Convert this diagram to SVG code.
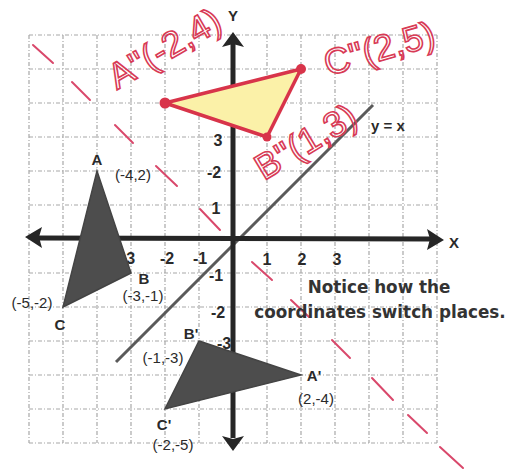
<svg xmlns="http://www.w3.org/2000/svg" width="508" height="470" viewBox="0 0 508 470">
<defs>
<style>
.grid line{stroke:#a8a8a8;stroke-width:1.2;stroke-dasharray:4 2 1 2}
.tick{font-family:"Liberation Sans",Arial,sans-serif;font-weight:bold;font-size:16px;fill:#2a2a2a;text-anchor:middle}
.lbl{font-family:"Liberation Sans",Arial,sans-serif;font-weight:bold;font-size:15px;fill:#2a2a2a;text-anchor:middle}
.crd{font-family:"Liberation Sans",Arial,sans-serif;font-size:15px;fill:#2a2a2a;text-anchor:middle}
.tri{fill:#4d4d4d;stroke:#444;stroke-width:1.5}
.axis{stroke:#262626;stroke-width:5;fill:none}
.head{fill:#262626}
.slash{stroke:#d9486b;stroke-width:2;stroke-linecap:round}
.hand{font-family:"Liberation Sans",Arial,sans-serif;font-size:36px;fill:none;stroke:#d83a55;stroke-width:1.6}
.note{font-family:"DejaVu Sans",Verdana,sans-serif;font-weight:bold;font-size:16.8px;fill:#333;text-anchor:middle}
</style>
</defs>
<rect width="508" height="470" fill="#ffffff"/>
<g id="grid" class="grid">
<line x1="29" y1="35" x2="29" y2="443"/><line x1="63" y1="35" x2="63" y2="443"/><line x1="97" y1="35" x2="97" y2="443"/><line x1="131" y1="35" x2="131" y2="443"/><line x1="165" y1="35" x2="165" y2="443"/><line x1="199" y1="35" x2="199" y2="443"/><line x1="267" y1="35" x2="267" y2="443"/><line x1="301" y1="35" x2="301" y2="443"/><line x1="335" y1="35" x2="335" y2="443"/><line x1="369" y1="35" x2="369" y2="443"/><line x1="403" y1="35" x2="403" y2="443"/><line x1="437" y1="35" x2="437" y2="443"/>
<line x1="29" y1="35" x2="437" y2="35"/><line x1="29" y1="69" x2="437" y2="69"/><line x1="29" y1="103" x2="437" y2="103"/><line x1="29" y1="137" x2="437" y2="137"/><line x1="29" y1="171" x2="437" y2="171"/><line x1="29" y1="205" x2="437" y2="205"/><line x1="29" y1="273" x2="437" y2="273"/><line x1="29" y1="307" x2="437" y2="307"/><line x1="29" y1="341" x2="437" y2="341"/><line x1="29" y1="375" x2="437" y2="375"/><line x1="29" y1="409" x2="437" y2="409"/><line x1="29" y1="443" x2="437" y2="443"/>
</g>
<g id="ticks">
<text class="tick" x="218" y="146">3</text>
<text class="tick" x="214" y="178">-2</text>
<text class="tick" x="216" y="214">1</text>
<text class="tick" x="216" y="281">-1</text>
<text class="tick" x="218" y="318">-2</text>
<text class="tick" x="224" y="349">-3</text>
<text class="tick" x="128" y="264">-3</text>
<text class="tick" x="167" y="264">-2</text>
<text class="tick" x="200" y="264">-1</text>
<text class="tick" x="267" y="265">1</text>
<text class="tick" x="302" y="265">2</text>
<text class="tick" x="337" y="265">3</text>
</g>
<g id="connectors">
<line id="line-yx" x1="116" y1="362" x2="373" y2="105" stroke="#5a5a5a" stroke-width="3"/>
<line class="axis" x1="38" y1="238" x2="432" y2="239"/>
<polygon class="head" points="25,237 42,227 39,237 42,248"/>
<polygon class="head" points="444,240 427,229 430,239 427,250"/>
<line class="axis" x1="233" y1="44" x2="233" y2="438"/>
<polygon class="head" points="233,32 222,47 233,44 244,47"/>
<polygon class="head" points="233,451 222,436 233,439 244,436"/>
</g>
<g id="slashes">
<line class="slash" x1="33" y1="45" x2="53" y2="63"/>
<line class="slash" x1="72" y1="82" x2="90" y2="100"/>
<line class="slash" x1="115" y1="125" x2="133" y2="143"/>
<line class="slash" x1="156" y1="166" x2="177" y2="186"/>
<line class="slash" x1="200" y1="209" x2="220" y2="230"/>
<line class="slash" x1="252" y1="262" x2="272" y2="280"/>
<line class="slash" x1="291" y1="300" x2="309" y2="317"/>
<line class="slash" x1="332" y1="340" x2="350" y2="358"/>
<line class="slash" x1="372" y1="378" x2="393" y2="400"/>
<line class="slash" x1="408" y1="415" x2="427" y2="433"/>
<line class="slash" x1="440" y1="447" x2="463" y2="468"/>
</g>
<g id="tri-ABC">
<polygon class="tri" points="97,171 131,273 63,307"/>
<text class="lbl" x="97" y="165">A</text>
<text class="crd" x="133" y="180">(-4,2)</text>
<text class="lbl" x="144" y="284">B</text>
<text class="crd" x="143" y="301">(-3,-1)</text>
<text class="crd" x="32" y="308">(-5,-2)</text>
<text class="lbl" x="60" y="330">C</text>
</g>
<g id="tri-ABC-prime">
<polygon class="tri" points="301,375 199,341 165,409"/>
<text class="lbl" x="191" y="339">B'</text>
<text class="crd" x="163" y="363">(-1,-3)</text>
<text class="lbl" x="314" y="381">A'</text>
<text class="crd" x="316" y="404">(2,-4)</text>
<text class="lbl" x="164" y="430">C'</text>
<text class="crd" x="173" y="450">(-2,-5)</text>
</g>
<g id="tri-ABC-double">
<polygon points="165,103 301,69 267,137" fill="#fbf1a8" stroke="#d8344a" stroke-width="3.5" stroke-linejoin="round"/>
<circle cx="165" cy="103" r="5.5" fill="#d8344a"/>
<circle cx="301" cy="69" r="5" fill="#d8344a"/>
<circle cx="267" cy="137" r="4.5" fill="#d8344a"/>
<text class="hand" font-size="30" transform="translate(117 90) rotate(-30)">A''(-2,4)</text>
<text class="hand" transform="translate(328 76) rotate(-16)">C''(2,5)</text>
<text class="hand" transform="translate(264 181) rotate(-31)">B''(1,3)</text>
</g>
<g id="axis-labels">
<text class="lbl" x="454" y="248" font-size="18">X</text>
<text class="lbl" x="233" y="21" font-size="16">Y</text>
<text class="lbl" x="388" y="131" font-size="14">y = x</text>
</g>
<g id="note">
<text class="note" x="379" y="293">Notice how the</text>
<text class="note" x="380" y="318">coordinates switch places.</text>
</g>
</svg>
